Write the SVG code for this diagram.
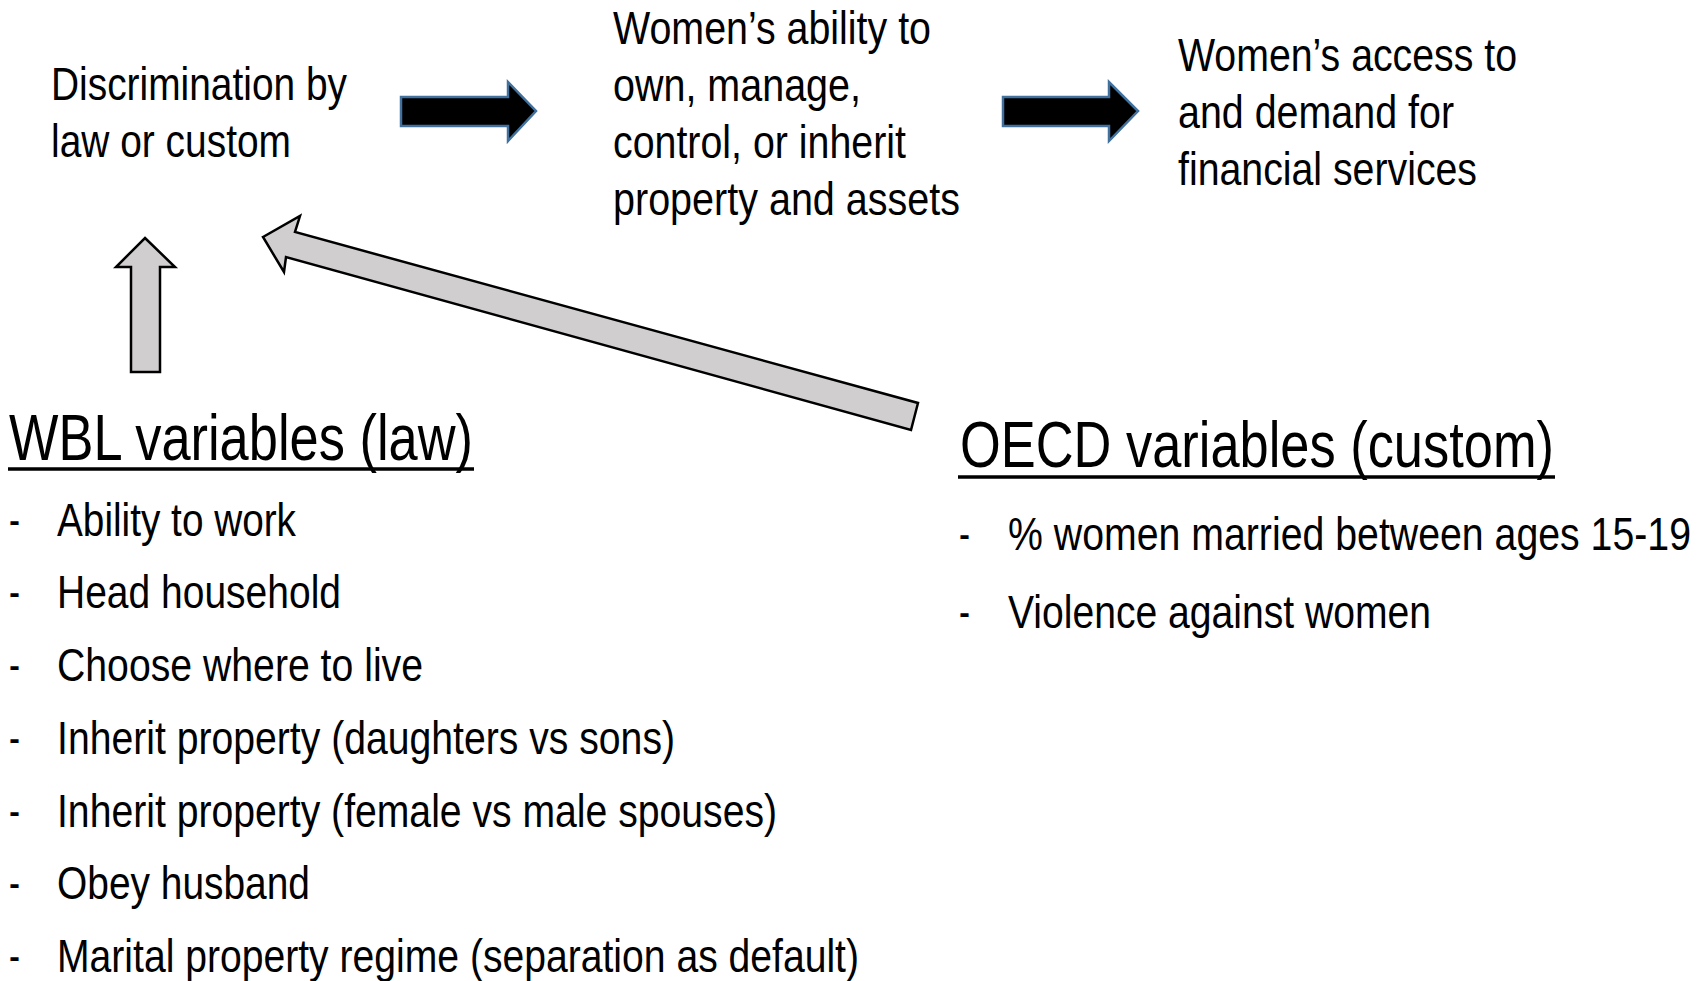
<svg xmlns="http://www.w3.org/2000/svg" width="1708" height="981" viewBox="0 0 1708 981">
  <style>
    text { font-family: 'Liberation Sans', Arial, sans-serif; fill: #000; }
    .body { font-size: 47px; }
    .head { font-size: 64px; }
    .rule { stroke: #000; stroke-width: 3.5; }
    .flow { fill: #000; stroke: #41719C; stroke-width: 2.5; stroke-linejoin: miter; }
    .feed { fill: #D0CECE; stroke: #000; stroke-width: 2.5; stroke-linejoin: miter; }
  </style>
  <rect width="1708" height="981" fill="#fff"/>

  <!-- Causal chain (narrow face: glyphs compressed to fixed line widths) -->
  <g id="discrimination" class="body">
    <text x="51" y="100" textLength="296" lengthAdjust="spacingAndGlyphs">Discrimination by</text>
    <text x="51" y="157" textLength="240" lengthAdjust="spacingAndGlyphs">law or custom</text>
  </g>
  <g id="property" class="body">
    <text x="613" y="44" textLength="318" lengthAdjust="spacingAndGlyphs">Women’s ability to</text>
    <text x="613" y="101" textLength="248" lengthAdjust="spacingAndGlyphs">own, manage,</text>
    <text x="613" y="158" textLength="293" lengthAdjust="spacingAndGlyphs">control, or inherit</text>
    <text x="613" y="215" textLength="347" lengthAdjust="spacingAndGlyphs">property and assets</text>
  </g>
  <g id="finance" class="body">
    <text x="1178" y="71" textLength="339" lengthAdjust="spacingAndGlyphs">Women’s access to</text>
    <text x="1178" y="128" textLength="276" lengthAdjust="spacingAndGlyphs">and demand for</text>
    <text x="1178" y="185" textLength="299" lengthAdjust="spacingAndGlyphs">financial services</text>
  </g>

  <!-- Variable groups -->
  <g id="wbl">
    <text class="head" x="9" y="460" textLength="464" lengthAdjust="spacingAndGlyphs">WBL variables (law)</text>
    <line class="rule" x1="8" y1="469" x2="474" y2="469"/>
    <g class="body">
      <text x="9" y="536" textLength="11" lengthAdjust="spacingAndGlyphs">-</text>
      <text x="57" y="536" textLength="239" lengthAdjust="spacingAndGlyphs">Ability to work</text>
      <text x="9" y="608" textLength="11" lengthAdjust="spacingAndGlyphs">-</text>
      <text x="57" y="608" textLength="284" lengthAdjust="spacingAndGlyphs">Head household</text>
      <text x="9" y="681" textLength="11" lengthAdjust="spacingAndGlyphs">-</text>
      <text x="57" y="681" textLength="366" lengthAdjust="spacingAndGlyphs">Choose where to live</text>
      <text x="9" y="754" textLength="11" lengthAdjust="spacingAndGlyphs">-</text>
      <text x="57" y="754" textLength="618" lengthAdjust="spacingAndGlyphs">Inherit property (daughters vs sons)</text>
      <text x="9" y="827" textLength="11" lengthAdjust="spacingAndGlyphs">-</text>
      <text x="57" y="827" textLength="720" lengthAdjust="spacingAndGlyphs">Inherit property (female vs male spouses)</text>
      <text x="9" y="899" textLength="11" lengthAdjust="spacingAndGlyphs">-</text>
      <text x="57" y="899" textLength="253" lengthAdjust="spacingAndGlyphs">Obey husband</text>
      <text x="9" y="972" textLength="11" lengthAdjust="spacingAndGlyphs">-</text>
      <text x="57" y="972" textLength="802" lengthAdjust="spacingAndGlyphs">Marital property regime (separation as default)</text>
    </g>
  </g>
  <g id="oecd">
    <text class="head" x="960" y="467" textLength="594" lengthAdjust="spacingAndGlyphs">OECD variables (custom)</text>
    <line class="rule" x1="958" y1="477" x2="1555" y2="477"/>
    <g class="body">
      <text x="959" y="550" textLength="11" lengthAdjust="spacingAndGlyphs">-</text>
      <text x="1008" y="550" textLength="683" lengthAdjust="spacingAndGlyphs">% women married between ages 15-19</text>
      <text x="959" y="628" textLength="11" lengthAdjust="spacingAndGlyphs">-</text>
      <text x="1008" y="628" textLength="423" lengthAdjust="spacingAndGlyphs">Violence against women</text>
    </g>
  </g>

  <!-- Connectors -->
  <g id="connectors">
    <polygon class="flow" points="401,97 508,97 508,82 536,111 508,141 508,126 401,126"/>
    <polygon class="flow" points="1003,97 1109,97 1109,82 1138,111 1109,141 1109,126 1003,126"/>
    <polygon class="feed" points="145,238 175,267 160,267 160,372 131,372 131,267 116,267"/>
    <polygon class="feed" points="263,237 300,216 295,232 918,403 911,430 286,257 284,272"/>
  </g>
</svg>
